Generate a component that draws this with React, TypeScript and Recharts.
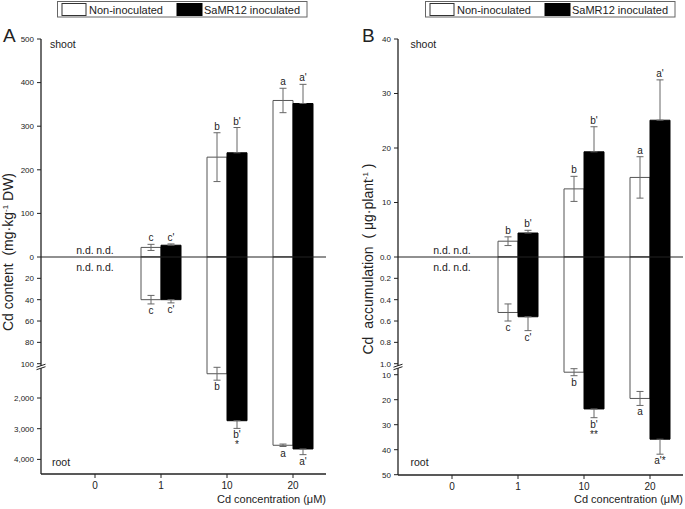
import React from 'react';
import { ComposedChart, Bar, XAxis, YAxis, ErrorBar, ReferenceLine, Scatter } from 'recharts';

const FONT = '"Liberation Sans", Arial, Helvetica, sans-serif';

const categories = ['0', '1', '10', '20'];
const legendNames = ['Non-inoculated', 'SaMR12 inoculated'];

// ---- Panel A: Cd content (mg·kg-1 DW)
const shootNonA = [null, 22, 229, 359];
const shootNonAErr = [null, 7, 56, 28];
const shootInocA = [null, 27, 239, 352];
const shootInocAErr = [null, 3, 58, 44];
const rootNonA = [null, 40, 1210, 3540];
const rootNonAErr = [null, 4, 210, 40];
const rootInocA = [null, 40, 2740, 3660];
const rootInocAErr = [null, 3, 250, 185];
const shootNonALbl = ['n.d.', 'c', 'b', 'a'];
const shootInocALbl = ['n.d.', "c'", "b'", "a'"];
const rootNonALbl = ['n.d.', 'c', 'b', 'a'];
const rootInocALbl = ['n.d.', "c'", "b'\n*", "a'"];
const shootTicksA = [0, 100, 200, 300, 400, 500];
const rootUpperTicksA = [20, 40, 60, 80, 100];
const rootLowerTicksA = [2000, 3000, 4000];
const shootTickLblA = ['0', '100', '200', '300', '400', '500'];
const rootUpperTickLblA = ['20', '40', '60', '80', '100'];
const rootLowerTickLblA = ['2,000', '3,000', '4,000'];

// ---- Panel B: Cd accumulation (μg·plant-1)
const shootNonB = [null, 2.9, 12.5, 14.6];
const shootNonBErr = [null, 0.8, 2.3, 3.8];
const shootInocB = [null, 4.4, 19.3, 25.1];
const shootInocBErr = [null, 0.5, 4.6, 7.4];
const rootNonB = [null, 0.52, 9.0, 19.5];
const rootNonBErr = [null, 0.08, 1.4, 2.8];
const rootInocB = [null, 0.56, 23.7, 35.8];
const rootInocBErr = [null, 0.13, 3.5, 6.0];
const shootNonBLbl = ['n.d.', 'b', 'b', 'a'];
const shootInocBLbl = ['n.d.', "b'", "b'", "a'"];
const rootNonBLbl = ['n.d.', 'c', 'b', 'a'];
const rootInocBLbl = ['n.d.', "c'", "b'\n**", "a'*"];
const shootTicksB = [0, 10, 20, 30, 40];
const rootUpperTicksB = [0.2, 0.4, 0.6, 0.8, 1.0];
const rootLowerTicksB = [10, 20, 30, 40, 50];
const shootTickLblB = ['0.0', '10', '20', '30', '40'];
const rootUpperTickLblB = ['0.2', '0.4', '0.6', '0.8', '1.0'];
const rootLowerTickLblB = ['10', '20', '30', '40', '50'];

// broken-axis transforms (value -> axis units, shoot up / root down)
const tShootA = (v: number) => v * 0.436;
const tRootA = (v: number) => (v <= 100 ? -v * 1.067 : -(110.3 + (v - 1000) * 0.0307));
const tShootB = (v: number) => v * 5.45;
const tRootB = (v: number) => (v <= 1 ? -v * 106.7 : -(117.7 + (v - 10) * 2.5));

type Series = {
  key: string;
  vals: (number | null)[];
  errs: (number | null)[];
  lbls: string[];
  T: (v: number) => number;
  outwardOnly?: boolean;
};

function buildRows(series: Series[]) {
  return categories.map((cat, i) => {
    const r: any = { cat };
    series.forEach(({ key, vals, errs, lbls, T, outwardOnly }) => {
      const v = vals[i];
      const e = errs[i];
      if (v == null) {
        r[key] = null;
        r[key + 'E'] = null;
        r[key + 'Y'] = 0;
      } else {
        const d = T(v);
        const a = T(v - (e || 0));
        const b = T(v + (e || 0));
        let lower = d - Math.min(a, b);
        let upper = Math.max(a, b) - d;
        if (outwardOnly) {
          if (d >= 0) lower = 0;
          else upper = 0;
        }
        r[key] = d;
        r[key + 'E'] = [lower, upper];
        r[key + 'Y'] = b;
      }
      r[key + 'L'] = lbls[i];
    });
    return r;
  });
}

const rowsA = buildRows([
  { key: 'sN', vals: shootNonA, errs: shootNonAErr, lbls: shootNonALbl, T: tShootA },
  { key: 'sI', vals: shootInocA, errs: shootInocAErr, lbls: shootInocALbl, T: tShootA, outwardOnly: true },
  { key: 'rN', vals: rootNonA, errs: rootNonAErr, lbls: rootNonALbl, T: tRootA },
  { key: 'rI', vals: rootInocA, errs: rootInocAErr, lbls: rootInocALbl, T: tRootA, outwardOnly: true },
]);
const rowsB = buildRows([
  { key: 'sN', vals: shootNonB, errs: shootNonBErr, lbls: shootNonBLbl, T: tShootB },
  { key: 'sI', vals: shootInocB, errs: shootInocBErr, lbls: shootInocBLbl, T: tShootB, outwardOnly: true },
  { key: 'rN', vals: rootNonB, errs: rootNonBErr, lbls: rootNonBLbl, T: tRootB },
  { key: 'rI', vals: rootInocB, errs: rootInocBErr, lbls: rootInocBLbl, T: tRootB, outwardOnly: true },
]);

function tickList(groups: [number[], string[], (v: number) => number][]) {
  const out: { pos: number; label: string }[] = [];
  groups.forEach(([vals, lbls, T]) => vals.forEach((v, i) => out.push({ pos: T(v), label: lbls[i] })));
  return out;
}

const ticksA = tickList([
  [shootTicksA, shootTickLblA, tShootA],
  [rootUpperTicksA, rootUpperTickLblA, tRootA],
  [rootLowerTicksA, rootLowerTickLblA, tRootA],
]);
const ticksB = tickList([
  [shootTicksB, shootTickLblB, tShootB],
  [rootUpperTicksB, rootUpperTickLblB, tRootB],
  [rootLowerTicksB, rootLowerTickLblB, tRootB],
]);

const INK = '#222';

function makeYTick(list: { pos: number; label: string }[], breakLabel: string, axisX: number) {
  return (props: any) => {
    const { x, y, payload } = props;
    const t = list.find((l) => Math.abs(l.pos - payload.value) < 0.01);
    const label = t ? t.label : '';
    const isBreak = !!t && label === breakLabel && t.pos < 0;
    return (
      <g>
        <text x={x} y={y} dy="0.355em" textAnchor="end" fontSize={8} fill={INK} fontFamily={FONT}>
          {label}
        </text>
        {isBreak && (
          <g>
            <polygon
              points={`${axisX - 4.5},${y + 3.5} ${axisX + 4.5},${y + 0.5} ${axisX + 4.5},${y + 3} ${axisX - 4.5},${y + 6}`}
              fill="#fff"
            />
            <line x1={axisX - 4.5} y1={y + 3.5} x2={axisX + 4.5} y2={y + 0.5} stroke={INK} strokeWidth={1} />
            <line x1={axisX - 4.5} y1={y + 6} x2={axisX + 4.5} y2={y + 3} stroke={INK} strokeWidth={1} />
          </g>
        )}
      </g>
    );
  };
}

function labelShape(key: string, dx: number, side: 'up' | 'down') {
  return (props: any) => {
    const { cx, cy, payload } = props;
    const text: string | undefined = payload ? payload[key + 'L'] : undefined;
    if (!text || !isFinite(cx) || !isFinite(cy)) return <g />;
    const isNd = text === 'n.d.';
    const base = side === 'up' ? cy - 3 : cy + (isNd ? 14 : 10);
    const lines = text.split('\n');
    return (
      <text x={cx + dx} y={base} textAnchor="middle" fontSize={isNd ? 10.5 : 10} fill={INK} fontFamily={FONT}>
        {lines.map((l, j) => (
          <tspan key={j} x={cx + dx} dy={j === 0 ? 0 : 10}>
            {l}
          </tspan>
        ))}
      </text>
    );
  };
}

type PanelProps = {
  rows: any[];
  width: number;
  yWidth: number;
  marginRight: number;
  xHeight: number;
  domain: [number, number];
  ticks: { pos: number; label: string }[];
  breakLabel: string;
};

function Panel({ rows, width, yWidth, marginRight, xHeight, domain, ticks, breakLabel }: PanelProps) {
  const YTick = makeYTick(ticks, breakLabel, yWidth);
  return (
    <ComposedChart
      width={width}
      height={509}
      data={rows}
      margin={{ top: 39, right: marginRight, bottom: 0, left: 0 }}
      stackOffset="sign"
      barGap={0}
    >
      <XAxis
        dataKey="cat"
        type="category"
        padding={{ left: 21, right: 0 }}
        height={xHeight}
        tickSize={4}
        tickMargin={4}
        tick={{ fontSize: 10, fill: INK, fontFamily: FONT }}
        axisLine={{ stroke: INK, strokeWidth: 1.3 }}
        tickLine={{ stroke: INK }}
      />
      <YAxis
        type="number"
        domain={domain}
        ticks={ticks.map((t) => t.pos)}
        interval={0}
        width={yWidth}
        tickSize={4}
        tickMargin={3}
        tick={YTick}
        axisLine={{ stroke: INK, strokeWidth: 1.3 }}
        tickLine={{ stroke: INK }}
      />
      <Bar dataKey="sN" stackId="w" fill="#fff" stroke="#555" strokeWidth={1} barSize={20} isAnimationActive={false}>
        <ErrorBar dataKey="sNE" width={3.5} stroke="#666" strokeWidth={1} direction="y" />
      </Bar>
      <Bar dataKey="rN" stackId="w" fill="#fff" stroke="#555" strokeWidth={1} barSize={20} isAnimationActive={false}>
        <ErrorBar dataKey="rNE" width={3.5} stroke="#666" strokeWidth={1} direction="y" />
      </Bar>
      <Bar dataKey="sI" stackId="b" fill="#000" stroke="#000" strokeWidth={1} barSize={20} isAnimationActive={false}>
        <ErrorBar dataKey="sIE" width={3.5} stroke="#666" strokeWidth={1} direction="y" />
      </Bar>
      <Bar dataKey="rI" stackId="b" fill="#000" stroke="#000" strokeWidth={1} barSize={20} isAnimationActive={false}>
        <ErrorBar dataKey="rIE" width={3.5} stroke="#666" strokeWidth={1} direction="y" />
      </Bar>
      <ReferenceLine y={0} stroke={INK} strokeWidth={1.2} />
      <Scatter dataKey="sNY" shape={labelShape('sN', -10, 'up')} isAnimationActive={false} />
      <Scatter dataKey="sIY" shape={labelShape('sI', 10, 'up')} isAnimationActive={false} />
      <Scatter dataKey="rNY" shape={labelShape('rN', -10, 'down')} isAnimationActive={false} />
      <Scatter dataKey="rIY" shape={labelShape('rI', 10, 'down')} isAnimationActive={false} />
    </ComposedChart>
  );
}

function LegendBox({ x }: { x: number }) {
  return (
    <g fontFamily={FONT}>
      <rect x={x} y={1.5} width={249.5} height={15.5} fill="#fff" stroke="#666" strokeWidth={1} />
      <rect x={x + 4.5} y={3.5} width={24} height={12} fill="#fff" stroke="#333" strokeWidth={1} />
      <text x={x + 31.5} y={13.5} fontSize={11} fill={INK}>{legendNames[0]}</text>
      <rect x={x + 119.5} y={3.5} width={25} height={12} fill="#000" stroke="#000" strokeWidth={1} />
      <text x={x + 146.5} y={13.5} fontSize={11} fill={INK}>{legendNames[1]}</text>
    </g>
  );
}

export default function App() {
  return (
    <div style={{ position: 'absolute', left: 0, top: 0, width: 685, height: 509, background: '#fff', overflow: 'hidden' }}>
      <div style={{ position: 'absolute', left: 0, top: 0 }}>
        <Panel rows={rowsA} width={342} yWidth={41} marginRight={16} xHeight={35} domain={[-217, 218]} ticks={ticksA} breakLabel="100" />
      </div>
      <div style={{ position: 'absolute', left: 345, top: 0 }}>
        <Panel rows={rowsB} width={340} yWidth={53} marginRight={2} xHeight={34} domain={[-218, 218]} ticks={ticksB} breakLabel="1.0" />
      </div>
      <svg width={685} height={509} style={{ position: 'absolute', left: 0, top: 0, pointerEvents: 'none' }} fontFamily={FONT}>
        <LegendBox x={57.5} />
        <LegendBox x={425.5} />
        <text x={3} y={42} fontSize={19} fill={INK}>A</text>
        <text x={362} y={42} fontSize={19} fill={INK}>B</text>
        <text x={50} y={47.5} fontSize={10.5} fill={INK}>shoot</text>
        <text x={52} y={466} fontSize={10.5} fill={INK}>root</text>
        <text x={410.5} y={48} fontSize={10.5} fill={INK}>shoot</text>
        <text x={410.5} y={466} fontSize={10.5} fill={INK}>root</text>
        <text x={326} y={503} fontSize={11} fill={INK} textAnchor="end">Cd concentration (μM)</text>
        <text x={683} y={503} fontSize={11} fill={INK} textAnchor="end">Cd concentration (μM)</text>
        <text x={13} y={252} fontSize={14} fill={INK} textAnchor="middle" transform="rotate(-90 13 252)" style={{ whiteSpace: 'pre' }}>
          <tspan>Cd content  (mg·kg</tspan>
          <tspan fontSize={8} dy={-5}>-1</tspan>
          <tspan dy={5}> DW)</tspan>
        </text>
        <text x={373} y={259} fontSize={14} fill={INK} textAnchor="middle" transform="rotate(-90 373 259)" style={{ whiteSpace: 'pre' }}>
          <tspan>Cd  accumulation  ( μg·plant</tspan>
          <tspan fontSize={8} dy={-5}>-1</tspan>
          <tspan dy={5}> )</tspan>
        </text>
      </svg>
    </div>
  );
}
